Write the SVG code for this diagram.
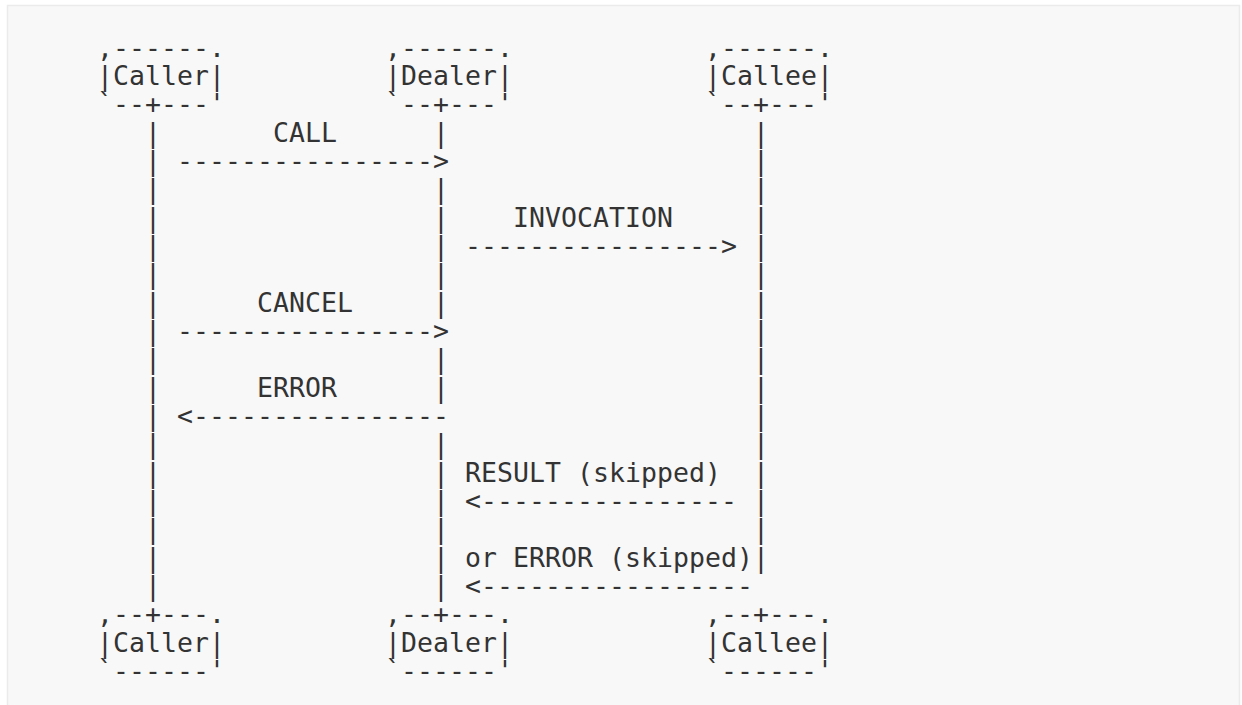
<svg xmlns="http://www.w3.org/2000/svg" width="1242" height="705" viewBox="0 0 1242 705">
<style>
.t{font-family:"DejaVu Sans Mono","Liberation Mono",monospace;font-size:26.5px;fill:#333;letter-spacing:0.05px;white-space:pre}
</style>
<rect x="0" y="0" width="1242" height="705" fill="#ffffff"/>
<rect x="7.5" y="5.5" width="1232" height="710" fill="#f8f8f8" stroke="#ebebeb" stroke-width="1.5"/>
<g id="caller-top">
<text class="t" x="97" y="56.67">,------.</text>
<text class="t" x="97" y="85">|Caller|</text>
<text class="t" x="97" y="113.33">`--+---'</text>
</g>
<g id="dealer-top">
<text class="t" x="385" y="56.67">,------.</text>
<text class="t" x="385" y="85">|Dealer|</text>
<text class="t" x="385" y="113.33">`--+---'</text>
</g>
<g id="callee-top">
<text class="t" x="705" y="56.67">,------.</text>
<text class="t" x="705" y="85">|Callee|</text>
<text class="t" x="705" y="113.33">`--+---'</text>
</g>
<g id="caller-bottom">
<text class="t" x="97" y="623.33">,--+---.</text>
<text class="t" x="97" y="651.67">|Caller|</text>
<text class="t" x="97" y="680">`------'</text>
</g>
<g id="dealer-bottom">
<text class="t" x="385" y="623.33">,--+---.</text>
<text class="t" x="385" y="651.67">|Dealer|</text>
<text class="t" x="385" y="680">`------'</text>
</g>
<g id="callee-bottom">
<text class="t" x="705" y="623.33">,--+---.</text>
<text class="t" x="705" y="651.67">|Callee|</text>
<text class="t" x="705" y="680">`------'</text>
</g>
<g id="connectors">
<g id="lifeline-caller">
<text class="t" x="145" y="141.67">|</text><text class="t" x="145" y="170">|</text><text class="t" x="145" y="198.33">|</text><text class="t" x="145" y="226.67">|</text><text class="t" x="145" y="255">|</text><text class="t" x="145" y="283.33">|</text><text class="t" x="145" y="311.67">|</text><text class="t" x="145" y="340">|</text><text class="t" x="145" y="368.33">|</text><text class="t" x="145" y="396.67">|</text><text class="t" x="145" y="425">|</text><text class="t" x="145" y="453.33">|</text><text class="t" x="145" y="481.67">|</text><text class="t" x="145" y="510">|</text><text class="t" x="145" y="538.33">|</text><text class="t" x="145" y="566.67">|</text><text class="t" x="145" y="595">|</text>
</g>
<g id="lifeline-dealer">
<text class="t" x="433" y="141.67">|</text><text class="t" x="433" y="198.33">|</text><text class="t" x="433" y="226.67">|</text><text class="t" x="433" y="255">|</text><text class="t" x="433" y="283.33">|</text><text class="t" x="433" y="311.67">|</text><text class="t" x="433" y="368.33">|</text><text class="t" x="433" y="396.67">|</text><text class="t" x="433" y="453.33">|</text><text class="t" x="433" y="481.67">|</text><text class="t" x="433" y="510">|</text><text class="t" x="433" y="538.33">|</text><text class="t" x="433" y="566.67">|</text><text class="t" x="433" y="595">|</text>
</g>
<g id="lifeline-callee">
<text class="t" x="753" y="141.67">|</text><text class="t" x="753" y="170">|</text><text class="t" x="753" y="198.33">|</text><text class="t" x="753" y="226.67">|</text><text class="t" x="753" y="255">|</text><text class="t" x="753" y="283.33">|</text><text class="t" x="753" y="311.67">|</text><text class="t" x="753" y="340">|</text><text class="t" x="753" y="368.33">|</text><text class="t" x="753" y="396.67">|</text><text class="t" x="753" y="425">|</text><text class="t" x="753" y="453.33">|</text><text class="t" x="753" y="481.67">|</text><text class="t" x="753" y="510">|</text><text class="t" x="753" y="538.33">|</text><text class="t" x="753" y="566.67">|</text>
</g>
<g id="messages">
<text class="t" x="177" y="170">----------------&gt;</text>
<text class="t" x="465" y="255">----------------&gt;</text>
<text class="t" x="177" y="340">----------------&gt;</text>
<text class="t" x="177" y="425">&lt;----------------</text>
<text class="t" x="465" y="510">&lt;----------------</text>
<text class="t" x="465" y="595">&lt;-----------------</text>
</g>
<g id="labels">
<text class="t" x="273" y="141.67">CALL</text>
<text class="t" x="513" y="226.67">INVOCATION</text>
<text class="t" x="257" y="311.67">CANCEL</text>
<text class="t" x="257" y="396.67">ERROR</text>
<text class="t" x="465" y="481.67">RESULT (skipped)</text>
<text class="t" x="465" y="566.67">or ERROR (skipped)</text>
</g>
</g>
</svg>
